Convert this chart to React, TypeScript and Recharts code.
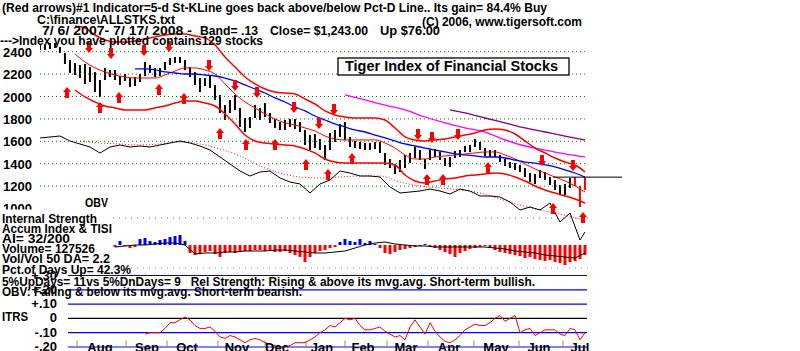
import { ComposedChart, Bar, Line, Scatter, XAxis, YAxis, ReferenceLine } from 'recharts';

const FONT = '"Liberation Sans", Arial, sans-serif';

// price bars, one every ~2.4 trading days, 7/6/2007 .. 7/17/2008
const highs = [
  2460, 2460, 2478, 2478, 2442, 2388, 2326, 2299, 2281, 2290,
  2263, 2218, 2147, 2254, 2236, 2236, 2183, 2201, 2165, 2174,
  2201, 2308, 2281, 2254, 2254, 2308, 2344, 2353, 2353, 2326,
  2263, 2218, 2165, 2165, 2192, 2103, 2013, 1924, 1969, 2013,
  1897, 1808, 1817, 1924, 1897, 1942, 1853, 1799, 1772, 1790,
  1799, 1799, 1772, 1701, 1656, 1665, 1621, 1567, 1674, 1701,
  1755, 1772, 1638, 1603, 1594, 1585, 1585, 1594, 1594, 1495,
  1442, 1397, 1433, 1478, 1495, 1549, 1522, 1442, 1522, 1531,
  1504, 1451, 1460, 1513, 1522, 1558, 1567, 1621, 1594, 1540,
  1522, 1522, 1478, 1442, 1415, 1406, 1388, 1361, 1317, 1308,
  1344, 1326, 1281, 1254, 1210, 1219, 1272, 1281, 1201, 1281,
];
const lows = [
  2415, 2415, 2424, 2433, 2388, 2290, 2210, 2192, 2165, 2112,
  2129, 2040, 1995, 2147, 2174, 2147, 2103, 2138, 2085, 2094,
  2129, 2183, 2210, 2174, 2183, 2236, 2281, 2299, 2299, 2236,
  2174, 2103, 2040, 2094, 2076, 1969, 1853, 1790, 1853, 1879,
  1728, 1683, 1719, 1808, 1790, 1817, 1764, 1719, 1701, 1701,
  1728, 1710, 1683, 1567, 1522, 1540, 1522, 1433, 1522, 1594,
  1638, 1612, 1549, 1540, 1531, 1522, 1522, 1531, 1495, 1388,
  1361, 1308, 1326, 1361, 1406, 1451, 1433, 1353, 1433, 1460,
  1433, 1379, 1370, 1451, 1460, 1504, 1504, 1549, 1522, 1469,
  1460, 1460, 1415, 1379, 1361, 1344, 1326, 1281, 1236, 1219,
  1272, 1254, 1210, 1165, 1120, 1120, 1183, 1201, 1013, 1165,
];
const redFrom = 107;

// bands, sampled every second bar from bar 7
const bandStart = 7;
const upperBand = [
  2630, 2612, 2549, 2505, 2487, 2487, 2496, 2514, 2532, 2549,
  2558, 2558, 2540, 2523, 2460, 2353, 2263, 2174, 2112, 2067,
  2040, 2031, 2022, 1978, 1933, 1871, 1835, 1817, 1808, 1808,
  1808, 1790, 1719, 1639, 1612, 1603, 1612, 1621, 1639, 1656,
  1674, 1701, 1710, 1701, 1665, 1603, 1540, 1496, 1451, 1415,
  1388, 1326,
];
const midBand = [
  2380, 2308, 2255, 2219, 2192, 2174, 2165, 2165, 2165, 2192,
  2228, 2255, 2255, 2237, 2201, 2112, 2023, 1951, 1898, 1844,
  1799, 1764, 1746, 1719, 1692, 1647, 1621, 1612, 1612, 1612,
  1612, 1585, 1540, 1478, 1442, 1442, 1460, 1469, 1478, 1487,
  1496, 1505, 1505, 1478, 1442, 1397, 1353, 1317, 1281, 1246,
  1201, 1147,
];
const lowerBand = [
  2058, 1996, 1951, 1915, 1898, 1880, 1880, 1880, 1898, 1915,
  1942, 1960, 1960, 1942, 1915, 1844, 1755, 1656, 1603, 1585,
  1576, 1567, 1558, 1531, 1496, 1442, 1415, 1406, 1406, 1406,
  1406, 1406, 1389, 1299, 1246, 1228, 1246, 1263, 1272, 1290,
  1299, 1308, 1317, 1308, 1281, 1246, 1201, 1165, 1138, 1112,
  1085, 1049,
];
const blueStart = 19;
const blueMA = [
  2246, 2246, 2237, 2219, 2210, 2201, 2201, 2192, 2183, 2165,
  2139, 2103, 2067, 2031, 1987, 1951, 1906, 1871, 1826, 1790,
  1755, 1728, 1701, 1683, 1656, 1630, 1603, 1576, 1558, 1540,
  1522, 1505, 1487, 1478, 1469, 1460, 1460, 1451, 1433, 1415,
  1406, 1389, 1371, 1344, 1317, 1281,
];
const magentaX = [61, 65, 69, 73, 77, 81, 85, 89, 93, 97, 101, 105, 109];
const magentaMA = [2014, 1969, 1924, 1880, 1817, 1764, 1719, 1683, 1612, 1558, 1522, 1487, 1460];
const purpleX = [82, 85, 89, 93, 97, 101, 105, 109];
const purpleMA = [1880, 1853, 1808, 1764, 1719, 1683, 1647, 1612];

// OBV (arbitrary units) every second bar, plus last bar
const obvX = [
  0, 2, 4, 6, 8, 10, 12, 14, 16, 18, 20, 22, 24, 26, 28, 30, 32, 34, 36, 38,
  40, 42, 44, 46, 48, 50, 52, 54, 56, 58, 60, 62, 64, 66, 68, 70, 72, 74, 76, 78,
  80, 82, 84, 86, 88, 90, 92, 94, 96, 98, 100, 102, 104, 106, 108, 109,
];
const obv = [
  122, 123, 124, 119, 116, 113, 107, 113, 115, 113, 114, 113, 115, 117, 119, 117, 114, 110, 103, 96,
  89, 84, 88, 89, 82, 78, 76, 67, 76, 80, 89, 87, 84, 84, 83, 73, 67, 68, 69, 71,
  69, 66, 71, 69, 64, 64, 63, 58, 50, 53, 50, 57, 38, 47, 20, 28,
];
const obvMaStart = 8;
const obvMA = [119, 117, 116, 115, 116, 118, 116, 111, 104, 94, 87, 83, 82, 83, 84, 84, 78, 74, 72, 70, 67, 61, 55, 50, 46, 41];

const upArrowX = [5.4, 12, 15.8, 23.8, 28.8, 36, 41.2, 47, 53.2, 57.6, 62.4, 77.4, 80.6, 89.6, 102.6, 108.6];
const upArrowV = [2031, 1897, 1987, 2058, 1978, 1665, 1567, 1567, 1388, 1299, 1442, 1254, 1254, 1361, 995, 915];
const downArrowX = [9.8, 14.2, 20.8, 25.8, 33.8, 39, 43.4, 50.8, 55.8, 58.8, 75.6, 78.4, 83.6, 100.4, 106.6];
const downArrowV = [2442, 2388, 2415, 2451, 2281, 2103, 2040, 1906, 1763, 1888, 1665, 1638, 1665, 1433, 1388];

const priceTicks = [1000, 1200, 1400, 1600, 1800, 2000, 2200, 2400];
const gridLevels = [1200, 1400, 1600, 1800, 2000, 2200, 2400];

// Accumulation index histogram from bar 15, TISI line every second bar
const aiStart = 15;
const accumIndex = [
  -2, 4, -1, -3, -2, 6, 7, 4, 3, 5,
  6, 8, 9, 10, 4, -8, -10, -9, -7, -6,
  -9, -12, -8, -7, -8, -7, -6, -6, -5, -5,
  -6, -5, -7, -7, -6, -8, -10, -12, -17, -12,
  -8, -6, -5, -3, -2, 3, 6, 4, 3, 6,
  2, 4, 1, -3, -8, -9, -7, -5, -4, -3,
  -2, -1, 1, -1, -3, -5, -7, -9, -12, -8,
  -6, -4, -3, -2, -1, -3, -5, -7, -8, -9,
  -10, -11, -13, -12, -14, -15, -16, -15, -17, -18,
  -20, -17, -16, -14, -10,
];
const tisi = [
  -2, -1, 0, 0, 1, 2, 2, 0, -9, -8, -8, -7, -7, -6, -6, -6, -5, -5, -6, -7,
  -8, -8, -7, -6, -3, 0, 2, 3, 1, 0, -1, -1, -2, -2, -2, -2, -2, -2, -3, -4,
  -6, -7, -8, -10, -11, -12, -13, -8,
];

// ITRS from bar 21
const itrsStart = 21;
const itrs = [
  -0.11, -0.10, -0.10, -0.10, -0.07, -0.03, -0.03, -0.01, 0.01, -0.01,
  -0.05, -0.07, -0.07, -0.06, -0.09, -0.13, -0.14, -0.12, -0.13, -0.15,
  -0.17, -0.15, -0.14, -0.15, -0.17, -0.18, -0.19, -0.20, -0.20, -0.19,
  -0.17, -0.17, -0.17, -0.15, -0.13, -0.10, -0.08, -0.05, -0.06, -0.03,
  0.00, -0.01, 0.00, -0.05, -0.08, -0.08, -0.07, -0.06, -0.09, -0.11,
  -0.13, -0.12, -0.15, -0.06, -0.01, -0.06, -0.11, -0.03, -0.09, -0.13,
  -0.16, -0.17, -0.15, -0.12, -0.08, -0.06, -0.04, -0.05, -0.05, -0.03,
  0.00, 0.02, -0.02, 0.00, 0.02, -0.10, -0.08, -0.07, -0.12, -0.10,
  -0.08, -0.08, -0.08, -0.11, -0.12, -0.07, -0.08, -0.15, -0.10,
];
const itrsLevels = [0.3, 0.2, 0.1, 0, -0.1, -0.2];
const itrsLabels = ['+.30', '+.20', '+.10', '0', '-.10', '-.20'];

const monthStarts = [7.4, 17.2, 25.4, 35.6, 45, 53.2, 61, 69.4, 77.6, 86.8, 95.8, 104.6];
const monthMids = [12, 21.4, 29.4, 39.4, 47.4, 56.4, 64.6, 73.2, 81.8, 91.2, 99.8, 108];
const monthNames = ['Aug', 'Sep', 'Oct', 'Nov', 'Dec', 'Jan', 'Feb', 'Mar', 'Apr', 'May', 'Jun', 'Jul'];

const X_DOMAIN: [number, number] = [0, 109.6];

const priceData = highs.map((h, k) => ({ i: k, range: [lows[k], h], red: k >= redFrom }));
const upperData = upperBand.map((v, k) => ({ i: bandStart + 2 * k, v }));
const midData = midBand.map((v, k) => ({ i: bandStart + 2 * k, v }));
const lowerData = lowerBand.map((v, k) => ({ i: bandStart + 2 * k, v }));
const blueData = blueMA.map((v, k) => ({ i: blueStart + 2 * k, v }));
const magentaData = magentaMA.map((v, k) => ({ i: magentaX[k], v }));
const purpleData = purpleMA.map((v, k) => ({ i: purpleX[k], v }));
const obvData = obv.map((v, k) => ({ i: obvX[k], v }));
const obvMaData = obvMA.map((v, k) => ({ i: obvMaStart + 4 * k, v }));
const upData = upArrowX.map((x, k) => ({ i: x, v: upArrowV[k] }));
const downData = downArrowX.map((x, k) => ({ i: x, v: downArrowV[k] }));
const aiData = accumIndex.map((v, k) => ({ i: aiStart + k, ai: v }));
const tisiData = tisi.map((v, k) => ({ i: aiStart + 2 * k, t: v }));
const itrsData = itrs.map((v, k) => ({ i: itrsStart + k, r: v }));

const PriceBar = (p: any) => {
  const top = p.height < 0 ? p.y + p.height : p.y;
  const h = Math.max(Math.abs(p.height), 1);
  return <rect x={p.x + p.width / 2 - 1} y={top} width={2} height={h} fill={p.payload.red ? '#ff0000' : '#000000'} />;
};

const AiBar = (p: any) => {
  const top = p.height < 0 ? p.y + p.height : p.y;
  const h = Math.abs(p.height);
  return <rect x={p.x} y={top} width={p.width} height={h} fill={p.payload.ai > 0 ? '#0000ff' : '#ff0000'} />;
};

const UpArrow = (p: any) => {
  const { cx, cy } = p;
  return (
    <path
      d={`M${cx - 4},${cy - 1} L${cx},${cy - 6} L${cx + 4},${cy - 1} L${cx + 2},${cy - 1} L${cx + 2},${cy + 5} L${cx - 2},${cy + 5} L${cx - 2},${cy - 1} Z`}
      fill="#ff0000"
    />
  );
};

const DownArrow = (p: any) => {
  const { cx, cy } = p;
  return (
    <path
      d={`M${cx - 4},${cy + 1} L${cx},${cy + 6} L${cx + 4},${cy + 1} L${cx + 2},${cy + 1} L${cx + 2},${cy - 5} L${cx - 2},${cy - 5} L${cx - 2},${cy + 1} Z`}
      fill="#ff0000"
    />
  );
};

const PriceTick = (p: any) => {
  const { y, payload } = p;
  if (payload.value === 1000) {
    return (
      <svg x={0} y={y - 6} width={40} height={7}>
        <text x={3} y={10} fontFamily={FONT} fontWeight="bold" fontSize={13} fill="#000">
          {payload.value}
        </text>
      </svg>
    );
  }
  return (
    <text x={3} y={y + 5} fontFamily={FONT} fontWeight="bold" fontSize={13} fill="#000">
      {payload.value}
    </text>
  );
};

const ItrsTick = (p: any) => {
  const { y, payload, index } = p;
  return (
    <text x={57} y={y + 4} textAnchor="end" fontFamily={FONT} fontWeight="bold" fontSize={13} fill="#000">
      {itrsLabels[index] ?? payload.value}
    </text>
  );
};

const MonthTick = (p: any) => {
  const { x, index } = p;
  return (
    <text x={x} y={352} textAnchor="middle" fontFamily={FONT} fontWeight="bold" fontSize={13} fill="#000">
      {monthNames[index]}
    </text>
  );
};

const layer: React.CSSProperties = { position: 'absolute', left: 0, top: 0 };

function Txt({ x, y, len, size = 12, children }: { x: number; y: number; len: number; size?: number; children: string }) {
  return (
    <text
      x={x}
      y={y}
      textLength={len}
      lengthAdjust="spacingAndGlyphs"
      fontFamily={FONT}
      fontWeight="bold"
      fontSize={size}
      fill="#000"
      style={{ whiteSpace: 'pre' }}
    >
      {children}
    </text>
  );
}

export default function App() {
  return (
    <div style={{ position: 'absolute', left: 0, top: 0, width: 800, height: 351, background: '#fff', overflow: 'hidden' }}>
      {/* Internal strength panel */}
      <div style={layer}>
        <ComposedChart width={800} height={351} data={aiData} margin={{ top: 218, right: 212, bottom: 83, left: 40 }}>
          <XAxis type="number" dataKey="i" domain={X_DOMAIN} allowDataOverflow hide />
          <YAxis domain={[-23, 27]} allowDataOverflow hide />
          <ReferenceLine segment={[{ x: 14.6, y: 27 }, { x: 109.6, y: 27 }]} stroke="#707070" strokeDasharray="1 5" />
          <ReferenceLine segment={[{ x: 14.6, y: -23 }, { x: 109.6, y: -23 }]} stroke="#b070b0" strokeDasharray="1 5" />
          <Bar dataKey="ai" barSize={3} shape={AiBar} isAnimationActive={false} />
          <Line data={tisiData} dataKey="t" type="linear" stroke="#000" strokeWidth={1} dot={false} isAnimationActive={false} />
        </ComposedChart>
      </div>

      {/* ITRS panel */}
      <div style={layer}>
        <ComposedChart width={800} height={351} data={itrsData} margin={{ top: 275.5, right: 212, bottom: 3, left: 0 }}>
          <XAxis
            type="number"
            dataKey="i"
            domain={X_DOMAIN}
            allowDataOverflow
            ticks={monthMids}
            interval={0}
            height={1}
            axisLine={false}
            tickLine={false}
            tick={MonthTick}
          />
          <YAxis
            width={40}
            domain={[-0.2, 0.3]}
            allowDataOverflow
            ticks={itrsLevels}
            interval={0}
            axisLine={false}
            tickLine={false}
            tick={ItrsTick}
          />
          {itrsLevels.map((lv) => (
            <ReferenceLine
              key={lv}
              segment={[{ x: 5.6, y: lv }, { x: 109.4, y: lv }]}
              stroke={lv === 0 ? '#000000' : '#0000ff'}
              strokeWidth={1.2}
            />
          ))}
          {monthStarts.map((m) => (
            <ReferenceLine key={m} segment={[{ x: m, y: -0.155 }, { x: m, y: -0.205 }]} stroke="#9a9a20" ifOverflow="visible" />
          ))}
          <Line dataKey="r" type="linear" stroke="#ff0000" strokeWidth={1} dot={false} isAnimationActive={false} />
        </ComposedChart>
      </div>

      {/* Price panel */}
      <div style={layer}>
        <ComposedChart width={800} height={351} data={priceData} margin={{ top: 6.9, right: 212, bottom: 97.7, left: 0 }}>
          <XAxis type="number" dataKey="i" domain={X_DOMAIN} allowDataOverflow hide />
          <YAxis
            yAxisId="p"
            width={40}
            domain={[600, 2800]}
            allowDataOverflow
            ticks={priceTicks}
            interval={0}
            axisLine={false}
            tickLine={false}
            tick={PriceTick}
          />
          <YAxis yAxisId="obv" domain={[6.7, 253.1]} allowDataOverflow hide />
          {gridLevels.map((lv) => (
            <ReferenceLine key={lv} yAxisId="p" y={lv} stroke="#008000" strokeDasharray="1 3" />
          ))}
          <Line yAxisId="obv" data={obvMaData} dataKey="v" type="monotone" stroke="#ff0000" strokeDasharray="1 2" strokeWidth={1} dot={false} isAnimationActive={false} />
          <Line yAxisId="obv" data={obvData} dataKey="v" type="linear" stroke="#000" strokeWidth={1} dot={false} isAnimationActive={false} />
          <Line yAxisId="p" data={purpleData} dataKey="v" type="monotone" stroke="#800080" strokeWidth={1.3} dot={false} isAnimationActive={false} />
          <Line yAxisId="p" data={magentaData} dataKey="v" type="monotone" stroke="#ff00ff" strokeWidth={1.3} dot={false} isAnimationActive={false} />
          <Line yAxisId="p" data={upperData} dataKey="v" type="monotone" stroke="#ff0000" strokeWidth={1.5} dot={false} isAnimationActive={false} />
          <Line yAxisId="p" data={lowerData} dataKey="v" type="monotone" stroke="#ff0000" strokeWidth={1.5} dot={false} isAnimationActive={false} />
          <Line yAxisId="p" data={midData} dataKey="v" type="monotone" stroke="#ff0000" strokeWidth={1} dot={false} isAnimationActive={false} />
          <Line yAxisId="p" data={blueData} dataKey="v" type="monotone" stroke="#0000ff" strokeWidth={1.3} dot={false} isAnimationActive={false} />
          <Bar yAxisId="p" dataKey="range" barSize={2} shape={PriceBar} isAnimationActive={false} />
          <ReferenceLine yAxisId="p" segment={[{ x: 102.6, y: 1280 }, { x: 116.4, y: 1280 }]} stroke="#000" ifOverflow="visible" />
          <Scatter yAxisId="p" data={upData} dataKey="v" shape={UpArrow} isAnimationActive={false} />
          <Scatter yAxisId="p" data={downData} dataKey="v" shape={DownArrow} isAnimationActive={false} />
        </ComposedChart>
      </div>

      {/* captions */}
      <svg style={layer} width={800} height={351}>
        <Txt x={2} y={12} len={545}>(Red arrows)#1 Indicator=5-d St-KLine goes back above/below Pct-D Line.. Its gain= 84.4% Buy</Txt>
        <Txt x={37} y={24} len={138}>{'C:\\finance\\ALLSTKS.txt'}</Txt>
        <Txt x={422} y={26} len={160}>(C) 2006, www.tigersoft.com</Txt>
        <Txt x={42} y={35} len={150}>7/ 6/ 2007- 7/ 17/ 2008 -</Txt>
        <Txt x={200} y={35} len={58}>Band= .13</Txt>
        <Txt x={270} y={35} len={98}>Close= $1,243.00</Txt>
        <Txt x={380} y={35} len={60}>Up $76.00</Txt>
        <Txt x={0} y={45} len={263}>---&gt;Index you have plotted contains129 stocks</Txt>
        <rect x={338} y={58} width={231} height={17} fill="#fff" stroke="#000" strokeWidth={1.3} />
        <Txt x={345} y={71} len={213} size={14}>Tiger Index of Financial Stocks</Txt>
        <Txt x={85} y={207} len={23} size={13}>OBV</Txt>
        <Txt x={2} y={223} len={95}>Internal Strength</Txt>
        <Txt x={2} y={233} len={110}>Accum Index &amp; TISI</Txt>
        <Txt x={2} y={243} len={68}>AI= 32/200</Txt>
        <Txt x={2} y={253} len={93}>Volume= 127526</Txt>
        <Txt x={2} y={263} len={108}>Vol/Vol 50 DA= 2.2</Txt>
        <Txt x={2} y={274} len={129}>Pct.of Days Up= 42.3%</Txt>
        <Txt x={2} y={286} len={533}>5%UpDays= 11vs 5%DnDays= 9   Rel Strength: Rising &amp; above its mvg.avg. Short-term bullish.</Txt>
        <Txt x={2} y={296} len={300}>OBV: Falling &amp; below its mvg.avg. Short-term bearish.</Txt>
        <Txt x={2} y={321} len={26} size={13}>ITRS</Txt>
      </svg>
    </div>
  );
}
